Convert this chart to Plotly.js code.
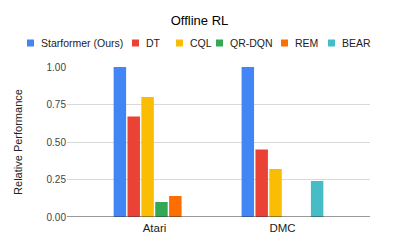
<!DOCTYPE html>
<html><head><meta charset="utf-8">
<script src="https://cdn.plot.ly/plotly-3.0.1.min.js"></script>
<style>html,body{margin:0;padding:0;background:#fff}#chart{width:399px;height:247px}</style>
</head><body><div id="chart"></div>
<script>
const categories = ["Atari", "DMC"];
const seriesNames = ["Starformer (Ours)", "DT", "CQL", "QR-DQN", "REM", "BEAR"];
const starformer = [1.00, 1.00];
const dt = [0.67, 0.45];
const cql = [0.80, 0.32];
const qrdqn = [0.10, null];
const rem = [0.14, null];
const bear = [null, 0.24];
const yTicks = [0, 0.25, 0.5, 0.75, 1.0];
const yTickLabels = ["0.00", "0.25", "0.50", "0.75", "1.00"];
const colors = ["#4285F4", "#EA4335", "#FBBC04", "#34A853", "#FF6D01", "#46BDC6"];

// layout constants (pixels)
const W = 399, H = 247, ML = 67, MR = 29, MT = 67, MB = 30;
const PW = W - ML - MR, PH = H - MT - MB;
const legendSquareX = [27, 132, 176, 216, 281, 328];
const legendY = 43;

const values = [starformer, dt, cql, qrdqn, rem, bear];
const traces = values.map((v, i) => ({
  type: "bar", x: categories, y: v, name: seriesNames[i],
  marker: {color: colors[i]}, hoverinfo: "none", showlegend: false
}));
const font = "Arial, 'Liberation Sans', sans-serif";
const px2x = p => (p - ML) / PW;
const py2y = p => (H - MB - p) / PH;

const shapes = [{type: "line", xref: "paper", yref: "y", x0: 0, x1: 1, y0: 0, y1: 0, line: {color: "#333", width: 1}}];
const annotations = [];
seriesNames.forEach((name, i) => {
  const sx = legendSquareX[i];
  shapes.push({type: "rect", xref: "paper", yref: "paper",
    x0: px2x(sx), x1: px2x(sx + 7), y0: py2y(legendY + 3.5), y1: py2y(legendY - 3.5),
    fillcolor: colors[i], line: {width: 0}});
  annotations.push({xref: "paper", yref: "paper", x: px2x(sx + 12), y: py2y(legendY),
    xanchor: "left", yanchor: "middle", text: name, showarrow: false,
    font: {family: font, size: 10.5, color: "#222"}});
});

Plotly.newPlot("chart", traces, {
  width: W, height: H,
  margin: {l: ML, r: MR, t: MT, b: MB},
  paper_bgcolor: "#fff", plot_bgcolor: "#fff",
  font: {family: font, size: 10, color: "#222"},
  title: {text: "Offline RL", font: {family: font, size: 13, color: "#000"}, x: 0.5, xanchor: "center", y: 1 - 20.5/H, yanchor: "middle"},
  barmode: "group", bargap: 0.35, bargroupgap: 0.1,
  showlegend: false,
  xaxis: {range: [-0.684, 1.684], showgrid: false, zeroline: false, showline: false, ticks: "",
    ticklabelstandoff: 2,
    tickfont: {family: font, size: 11.5, color: "#222"}, fixedrange: true},
  yaxis: {range: [0, 1.0], tickvals: yTicks, ticktext: yTickLabels, showgrid: true, gridcolor: "#d9d9d9",
    zeroline: false, showline: false, ticks: "", tickfont: {family: font, size: 10, color: "#444"},
    title: {text: "Relative Performance", font: {family: font, size: 11, color: "#222"}, standoff: 21},
    fixedrange: true},
  shapes: shapes,
  annotations: annotations
}, {displayModeBar: false, staticPlot: true});
</script></body></html>
